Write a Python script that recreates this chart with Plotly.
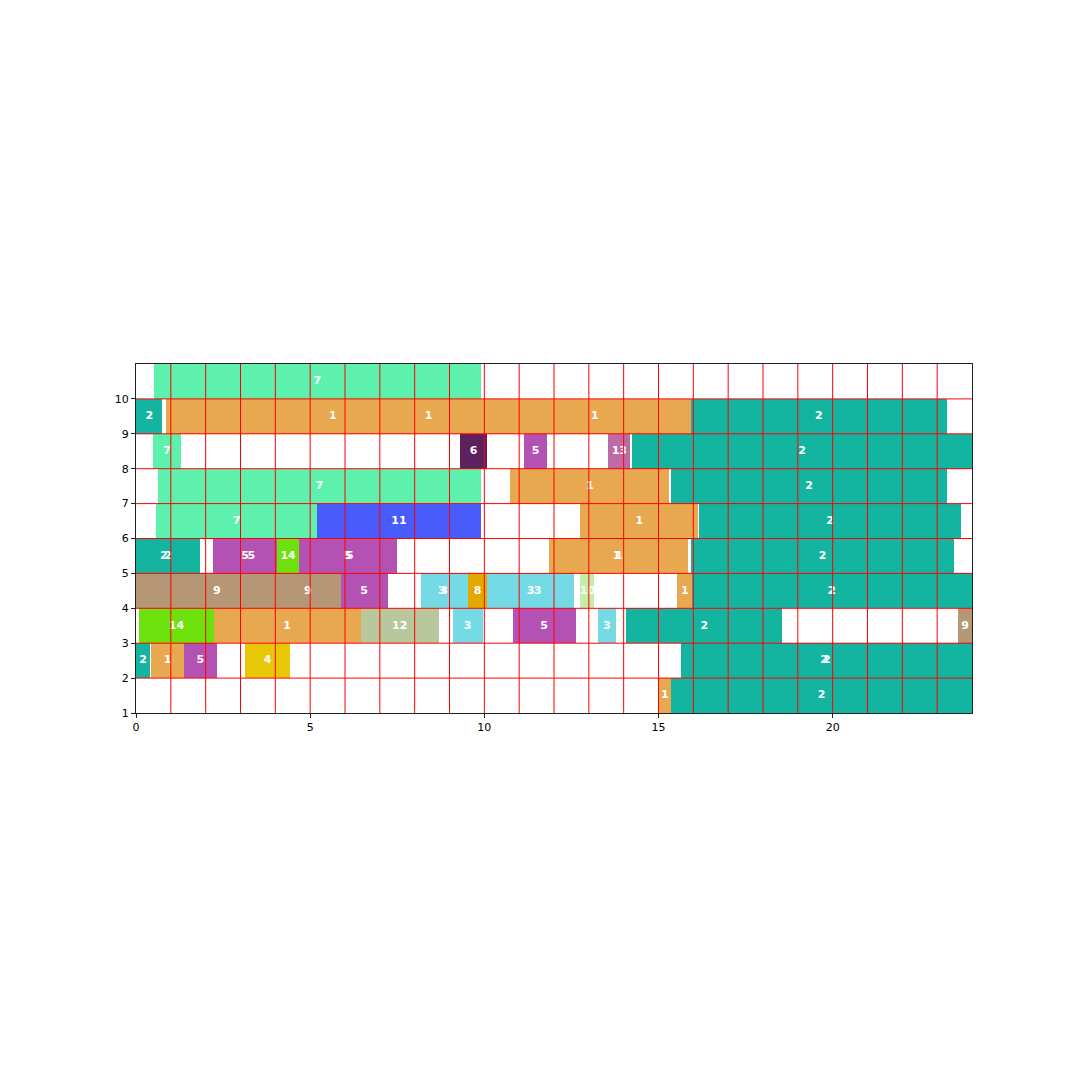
import plotly.graph_objects as go

# ---- data: one entry per bar (row = lower edge of the lane) ----
rows = [10,
        9, 9, 9, 9, 9,
        8, 8, 8, 8, 8,
        7, 7, 7,
        6, 6, 6, 6,
        5, 5, 5, 5, 5, 5, 5, 5, 5, 5,
        4, 4, 4, 4, 4, 4, 4, 4, 4, 4, 4, 4,
        3, 3, 3, 3, 3, 3, 3, 3,
        2, 2, 2, 2, 2, 2,
        1, 1]
starts = [0.52,
          0.0, 0.86, 0.86, 10.40, 15.94,
          0.49, 9.29, 11.15, 13.56, 14.24,
          0.63, 10.75, 15.37,
          0.57, 5.21, 12.76, 16.17,
          0.0, 0.0, 2.21, 2.21, 4.06, 4.67, 4.80, 11.87, 11.87, 15.94,
          0.0, 3.98, 5.88, 8.17, 8.17, 9.52, 10.09, 10.50, 12.76, 15.54, 15.97, 15.97,
          0.09, 2.23, 6.45, 9.09, 10.81, 13.25, 14.08, 23.60,
          0.0, 0.43, 1.38, 3.13, 15.66, 15.66,
          15.00, 15.37]
ends = [9.89,
        0.76, 10.44, 15.94, 15.94, 23.27,
        1.29, 10.09, 11.79, 14.19, 24.0,
        9.89, 15.31, 23.28,
        5.21, 9.89, 16.14, 23.68,
        1.60, 1.84, 4.41, 4.06, 4.67, 7.48, 7.48, 15.86, 15.72, 23.48,
        4.64, 5.88, 7.22, 9.52, 9.37, 10.09, 12.56, 12.56, 13.16, 15.97, 24.0, 23.95,
        2.23, 6.45, 8.69, 9.95, 12.62, 13.79, 18.55, 24.0,
        0.40, 1.38, 2.32, 4.42, 24.0, 23.85,
        15.37, 24.0]
labels = [7,
          2, 1, 1, 1, 2,
          7, 6, 5, 13, 2,
          7, 1, 2,
          7, 11, 1, 2,
          2, 2, 5, 5, 14, 5, 5, 1, 1, 2,
          9, 9, 5, 3, 3, 8, 3, 3, 10, 1, 2, 2,
          14, 1, 12, 3, 5, 3, 2, 9,
          2, 1, 5, 4, 2, 2,
          1, 2]

x_ticks = [0, 5, 10, 15, 20]
y_ticks = [1, 2, 3, 4, 5, 6, 7, 8, 9, 10]

# ---- styles ----
colors = {
    1: "#E8A84F", 2: "#14B5A0", 3: "#74DBE6", 4: "#E8C706",
    5: "#B452B4", 6: "#5C215E", 7: "#5EF1AE", 8: "#E2A900",
    9: "#B59775", 10: "#C3EEAA", 11: "#4A5BFB", 12: "#B8C79C",
    13: "#BC6BA7", 14: "#6DE10B",
}

fig = go.Figure()
fig.add_trace(go.Bar(
    orientation="h",
    y=[r + 0.5 for r in rows],
    x=[e - s for s, e in zip(starts, ends)],
    base=starts,
    width=1,
    marker=dict(color=[colors[l] for l in labels], line=dict(width=0)),
    hoverinfo="skip",
    showlegend=False,
))
fig.add_trace(go.Scatter(
    x=[(s + e) / 2 for s, e in zip(starts, ends)],
    y=[r + 0.5 for r in rows],
    mode="text",
    text=[str(l) for l in labels],
    textfont=dict(family="DejaVu Sans", size=11, color="white", weight="bold"),
    hoverinfo="skip",
    showlegend=False,
))

for v in range(1, 24):
    fig.add_shape(type="line", xref="x", yref="paper", x0=v, x1=v, y0=0, y1=1,
                  line=dict(color="red", width=1), layer="above")
for v in range(2, 11):
    fig.add_shape(type="line", xref="paper", yref="y", x0=0, x1=1, y0=v, y1=v,
                  line=dict(color="red", width=1), layer="above")

axis_common = dict(showgrid=False, zeroline=False, showline=True, mirror=True,
                   linecolor="#222222", linewidth=1, ticks="outside", ticklen=4,
                   tickcolor="#222222", tickfont=dict(family="DejaVu Sans", size=11, color="black"),
                   layer="above traces")
fig.update_xaxes(range=[0, 24], tickvals=x_ticks, ticktext=[str(t) for t in x_ticks], **axis_common)
fig.update_yaxes(range=[1, 11], tickvals=y_ticks, ticktext=[str(t) for t in y_ticks], **axis_common)

fig.update_layout(
    width=1080, height=1080, autosize=False,
    margin=dict(l=128, r=116, t=356, b=375, pad=0),
    paper_bgcolor="white", plot_bgcolor="white",
    barmode="overlay", bargap=0,
)
fig.write_html("out.html")
